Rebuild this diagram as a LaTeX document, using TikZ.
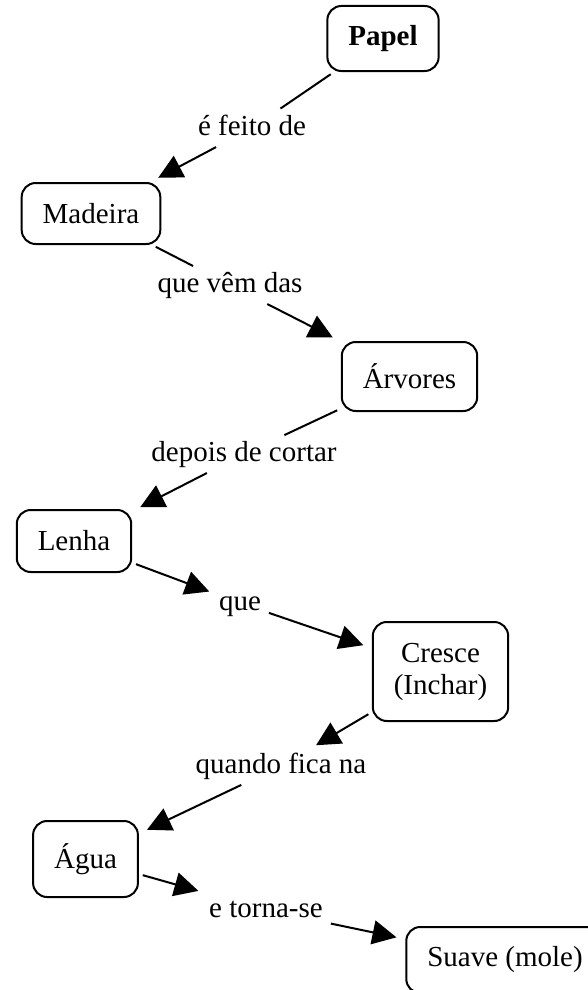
\documentclass[tikz,border=0pt]{standalone}
\usepackage{fontspec}
\setmainfont{Liberation Serif}
\usetikzlibrary{arrows.meta,positioning}

\begin{document}
\begin{tikzpicture}[x=1pt,y=-1pt,
every node/.style={font=\fontsize{29}{32}\selectfont},
concept/.style={draw=black, line width=2pt, rounded corners=14pt,
    inner xsep=21pt, inner ysep=0pt, align=center},
phrase/.style={anchor=base, inner sep=4pt, text height=20pt, text depth=6pt},
tail/.style={line width=2pt, shorten <=4pt, shorten >=4pt},
head/.style={line width=2pt, -{Triangle[length=24pt,width=24pt]},
    shorten <=4pt, shorten >=#1},
head/.default=9pt]
\useasboundingbox (0,0) rectangle (588,990);
\clip (0,0) rectangle (588,990);

% concepts
\node[concept, minimum height=65pt, font=\fontsize{29}{32}\selectfont\bfseries] (papel) at (383,38.5) {Papel};
\node[concept, minimum height=61pt] (madeira) at (91,213.5) {Madeira};
\node[concept, minimum height=69pt] (arvores) at (409.5,376.5) {Árvores};
\node[concept, minimum height=62pt] (lenha) at (74,541) {Lenha};
\node[concept, minimum height=99pt] (cresce) at (440.5,671.5) {Cresce\\(Inchar)};
\node[concept, minimum height=76pt] (agua) at (85.5,859) {Água};
\node[concept, minimum height=66pt] (suave) at (505,960) {Suave (mole)};

% linking phrases
\node[phrase] (p1) at (252,135) {é feito de};
\node[phrase] (p2) at (230,292) {que vêm das};
\node[phrase] (p3) at (244,461) {depois de cortar};
\node[phrase] (p4) at (240,610) {que};
\node[phrase] (p5) at (281,773) {quando fica na};
\node[phrase] (p6) at (266,917) {e torna-se};

\draw[tail] (papel) -- (p1);
\draw[head] (p1) -- (madeira);
\draw[tail] (madeira) -- (p2);
\draw[head] (p2) -- (arvores);
\draw[tail] (arvores) -- (p3);
\draw[head] (p3) -- (lenha);
\draw[head=6pt] (lenha) -- (p4);
\draw[head] (p4) -- (cresce);
\draw[head=7pt] (cresce) -- (p5);
\draw[head] (p5) -- (agua);
\draw[head=7pt] (agua) -- (p6);
\draw[head] (p6) -- (suave);
\end{tikzpicture}
\end{document}
